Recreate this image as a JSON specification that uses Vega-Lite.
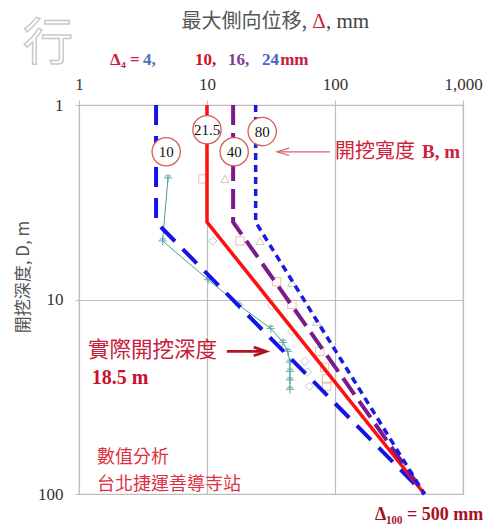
{
  "$schema": "https://vega.github.io/schema/vega-lite/v6.json",
  "width": 384,
  "height": 389,
  "autosize": "none",
  "padding": {"left": 79, "top": 105, "right": 28, "bottom": 35},
  "background": "white",
  "config": {"view": {"stroke": "#c4c4c4", "strokeWidth": 1.2}},
  "datasets": {
    "curves": [
      {"b": "10", "x": 4, "d": 1, "o": 1}, {"b": "10", "x": 4, "d": 4, "o": 2}, {"b": "10", "x": 500, "d": 100, "o": 3},
      {"b": "21.5", "x": 10, "d": 1, "o": 1}, {"b": "21.5", "x": 10, "d": 4, "o": 2}, {"b": "21.5", "x": 500, "d": 100, "o": 3},
      {"b": "40", "x": 16, "d": 1, "o": 1}, {"b": "40", "x": 16, "d": 4, "o": 2}, {"b": "40", "x": 500, "d": 100, "o": 3},
      {"b": "80", "x": 24, "d": 1, "o": 1}, {"b": "80", "x": 24, "d": 4, "o": 2}, {"b": "80", "x": 500, "d": 100, "o": 3}
    ],
    "measured": [
      {"kind": "cross", "x": 4.96, "d": 2.37}, {"kind": "cross", "x": 4.5, "d": 5.0}, {"kind": "cross", "x": 10.2, "d": 7.9},
      {"kind": "cross", "x": 17.8, "d": 10.7}, {"kind": "cross", "x": 31.5, "d": 14.1}, {"kind": "cross", "x": 39.2, "d": 16.6},
      {"kind": "cross", "x": 42.8, "d": 18.5}, {"kind": "cross", "x": 44.5, "d": 21.0}, {"kind": "cross", "x": 44.5, "d": 23.4},
      {"kind": "cross", "x": 44.5, "d": 25.9}, {"kind": "cross", "x": 44.5, "d": 29.0},
      {"kind": "diamond", "x": 11.1, "d": 5.0}, {"kind": "diamond", "x": 32, "d": 10.8}, {"kind": "diamond", "x": 46, "d": 14.6},
      {"kind": "diamond", "x": 58, "d": 20.8}, {"kind": "diamond", "x": 61, "d": 23.6}, {"kind": "diamond", "x": 63, "d": 28},
      {"kind": "square", "x": 9.3, "d": 2.4}, {"kind": "square", "x": 18.1, "d": 5.0}, {"kind": "square", "x": 35, "d": 8.1},
      {"kind": "square", "x": 46, "d": 10.6}, {"kind": "square", "x": 76, "d": 18.5}, {"kind": "square", "x": 83, "d": 22.3},
      {"kind": "square", "x": 86, "d": 25.6}, {"kind": "square", "x": 86, "d": 28},
      {"kind": "triangle", "x": 13.8, "d": 2.4}, {"kind": "triangle", "x": 25.9, "d": 5.0}, {"kind": "triangle", "x": 46, "d": 8.2},
      {"kind": "triangle", "x": 72, "d": 13}
    ],
    "widths": [
      {"b": "10", "x": 4.8, "d": 1.74},
      {"b": "21.5", "x": 10, "d": 1.34},
      {"b": "40", "x": 16.3, "d": 1.74},
      {"b": "80", "x": 27, "d": 1.37}
    ],
    "one": [{"k": 1}]
  },
  "layer": [
    {"data": {"name": "measured"}, "transform": [{"filter": "datum.kind == 'cross'"}], "mark": {"type": "line", "color": "#4d9c9c", "strokeWidth": 1},
     "encoding": {
      "x": {"field": "x", "type": "quantitative", "scale": {"type": "log", "domain": [1, 1000]},
        "axis": {"orient": "top", "values": [1, 10, 100, 1000], "format": ",", "title": null, "grid": true, "gridColor": "#bdbdbd", "gridWidth": 1.2, "domain": false, "ticks": true, "tickColor": "#bdbdbd", "tickSize": 5, "labelFont": "Liberation Serif", "labelFontSize": 17, "labelColor": "#333", "labelPadding": 7, "labelFlush": false}},
      "y": {"field": "d", "type": "quantitative", "scale": {"type": "log", "domain": [1, 100], "reverse": true},
        "axis": {"values": [1, 10, 100], "title": null, "grid": true, "gridColor": "#bdbdbd", "gridWidth": 1.2, "domain": false, "ticks": true, "tickColor": "#bdbdbd", "tickSize": 4, "labelFont": "Liberation Serif", "labelFontSize": 17, "labelColor": "#333", "labelPadding": 12, "labelFlush": false}},
      "order": {"field": "d", "type": "quantitative"}}},
    {"data": {"name": "measured"}, "transform": [{"filter": "datum.kind == 'cross'"}], "mark": {"type": "point", "shape": "M-1,0L1,0M0,-1L0,1M-0.7,-0.5L0.7,-0.5", "filled": false, "stroke": "#3f9a9a", "strokeWidth": 1.2, "size": 70},
     "encoding": {"x": {"field": "x", "type": "quantitative"}, "y": {"field": "d", "type": "quantitative"}}},
    {"data": {"name": "measured"}, "transform": [{"filter": "datum.kind == 'diamond'"}], "mark": {"type": "point", "shape": "diamond", "filled": false, "stroke": "#9fb4d2", "strokeWidth": 1, "size": 70},
     "encoding": {"x": {"field": "x", "type": "quantitative"}, "y": {"field": "d", "type": "quantitative"}}},
    {"data": {"name": "measured"}, "transform": [{"filter": "datum.kind == 'square'"}], "mark": {"type": "point", "shape": "square", "filled": false, "stroke": "#e0a878", "strokeWidth": 1, "size": 70},
     "encoding": {"x": {"field": "x", "type": "quantitative"}, "y": {"field": "d", "type": "quantitative"}}},
    {"data": {"name": "measured"}, "transform": [{"filter": "datum.kind == 'triangle'"}], "mark": {"type": "point", "shape": "triangle-up", "filled": false, "stroke": "#c0a8a8", "strokeWidth": 1, "size": 70},
     "encoding": {"x": {"field": "x", "type": "quantitative"}, "y": {"field": "d", "type": "quantitative"}}},
    {"data": {"name": "curves"}, "transform": [{"filter": "datum.b == '10'"}], "mark": {"type": "line", "color": "#1414e6", "strokeWidth": 4, "strokeDash": [20, 11]},
     "encoding": {"x": {"field": "x", "type": "quantitative"}, "y": {"field": "d", "type": "quantitative"}, "order": {"field": "o", "type": "quantitative"}}},
    {"data": {"name": "curves"}, "transform": [{"filter": "datum.b == '21.5'"}], "mark": {"type": "line", "color": "#ff0f0f", "strokeWidth": 3.5},
     "encoding": {"x": {"field": "x", "type": "quantitative"}, "y": {"field": "d", "type": "quantitative"}, "order": {"field": "o", "type": "quantitative"}}},
    {"data": {"name": "curves"}, "transform": [{"filter": "datum.b == '40'"}], "mark": {"type": "line", "color": "#7a1a8c", "strokeWidth": 4, "strokeDash": [20, 8]},
     "encoding": {"x": {"field": "x", "type": "quantitative"}, "y": {"field": "d", "type": "quantitative"}, "order": {"field": "o", "type": "quantitative"}}},
    {"data": {"name": "curves"}, "transform": [{"filter": "datum.b == '80'"}], "mark": {"type": "line", "color": "#1a1ae6", "strokeWidth": 3.5, "strokeDash": [7, 5]},
     "encoding": {"x": {"field": "x", "type": "quantitative"}, "y": {"field": "d", "type": "quantitative"}, "order": {"field": "o", "type": "quantitative"}}},
    {"data": {"name": "widths"}, "mark": {"type": "point", "shape": "circle", "filled": true, "fill": "white", "stroke": "#d85a5a", "strokeWidth": 1.3, "size": 800, "opacity": 1},
     "encoding": {"x": {"field": "x", "type": "quantitative"}, "y": {"field": "d", "type": "quantitative"}}},
    {"data": {"name": "widths"}, "mark": {"type": "text", "font": "Liberation Serif", "fontSize": 15, "color": "#111", "align": "center", "baseline": "middle"},
     "encoding": {"x": {"field": "x", "type": "quantitative"}, "y": {"field": "d", "type": "quantitative"}, "text": {"field": "b"}}},
    {"data": {"name": "one"}, "mark": {"type": "text", "text": "行", "font": "Noto Sans CJK TC", "fontSize": 50, "fill": "white", "stroke": "#c8c8c8", "strokeWidth": 1.5, "align": "center", "baseline": "middle"}, "encoding": {"x": {"datum": 0.573}, "y": {"datum": 0.491}}},
    {"data": {"name": "one"}, "mark": {"type": "rule", "color": "#d86070", "strokeWidth": 1.2}, "encoding": {"x": {"datum": 35.2}, "x2": {"datum": 91.3}, "y": {"datum": 1.74}}},
    {"data": {"name": "one"}, "mark": {"type": "point", "shape": "M1,-0.6L-1,0L1,0.6", "filled": false, "stroke": "#d86070", "strokeWidth": 1.2, "size": 150, "opacity": 1}, "encoding": {"x": {"datum": 39.3}, "y": {"datum": 1.74}}},
    {"data": {"name": "one"}, "mark": {"type": "text", "text": "開挖寬度", "font": "Noto Sans CJK TC", "fontSize": 20, "color": "#d0203c", "align": "left", "baseline": "middle"}, "encoding": {"x": {"datum": 100}, "y": {"datum": 1.74}}},
    {"data": {"name": "one"}, "mark": {"type": "text", "text": "B, m", "font": "Liberation Serif", "fontWeight": "bold", "fontSize": 19, "color": "#d0203c", "align": "left", "baseline": "middle"}, "encoding": {"x": {"datum": 479}, "y": {"datum": 1.74}}},
    {"data": {"name": "one"}, "mark": {"type": "text", "text": "實際開挖深度", "font": "Noto Sans CJK TC", "fontSize": 21.5, "color": "#c8203a", "align": "left", "baseline": "middle"}, "encoding": {"x": {"datum": 1.176}, "y": {"datum": 18.5}}},
    {"data": {"name": "one"}, "mark": {"type": "rule", "color": "#b01525", "strokeWidth": 2.8}, "encoding": {"x": {"datum": 14.3}, "x2": {"datum": 28.2}, "y": {"datum": 18.5}}},
    {"data": {"name": "one"}, "mark": {"type": "point", "shape": "M-1,-0.7L1,0L-1,0.7", "filled": false, "stroke": "#b01525", "strokeWidth": 2.8, "size": 150, "opacity": 1}, "encoding": {"x": {"datum": 25.9}, "y": {"datum": 18.5}}},
    {"data": {"name": "one"}, "mark": {"type": "text", "text": "18.5 m", "font": "Liberation Serif", "fontWeight": "bold", "fontSize": 20, "color": "#c8102e", "align": "left", "baseline": "middle"}, "encoding": {"x": {"datum": 1.26}, "y": {"datum": 25.3}}},
    {"data": {"name": "one"}, "mark": {"type": "text", "text": "數值分析", "font": "Noto Sans CJK TC", "fontSize": 18, "color": "#e0303f", "align": "left", "baseline": "middle"}, "encoding": {"x": {"datum": 1.38}, "y": {"datum": 65.5}}},
    {"data": {"name": "one"}, "mark": {"type": "text", "text": "台北捷運善導寺站", "font": "Noto Sans CJK TC", "fontSize": 18, "color": "#e0303f", "align": "left", "baseline": "middle"}, "encoding": {"x": {"datum": 1.38}, "y": {"datum": 90}}},
    {"data": {"name": "one"}, "mark": {"type": "text", "text": "Δ₁₀₀ =  500 mm", "font": "Liberation Serif", "fontWeight": "bold", "fontSize": 18, "color": "#a8101e", "align": "left", "baseline": "middle"}, "encoding": {"x": {"datum": 205}, "y": {"datum": 128}}},
    {"data": {"name": "one"}, "mark": {"type": "text", "text": "開挖深度, D, m", "font": "Noto Sans CJK TC", "fontSize": 17, "color": "#555", "align": "center", "baseline": "middle", "angle": 270}, "encoding": {"x": {"datum": 0.37}, "y": {"datum": 7.66}}},
    {"data": {"name": "one"}, "mark": {"type": "text", "text": "最大側向位移,", "font": "Noto Sans CJK TC", "fontSize": 20, "color": "#555", "align": "right", "baseline": "middle", "dx": -12}, "encoding": {"x": {"datum": 75}, "y": {"datum": 0.374}}},
    {"data": {"name": "one"}, "mark": {"type": "text", "text": "Δ", "font": "Liberation Serif", "fontSize": 21, "color": "#d0203c", "align": "center", "baseline": "middle"}, "encoding": {"x": {"datum": 75}, "y": {"datum": 0.374}}},
    {"data": {"name": "one"}, "mark": {"type": "text", "text": ", mm", "font": "Liberation Serif", "fontSize": 21, "color": "#444", "align": "left", "baseline": "middle", "dx": 7}, "encoding": {"x": {"datum": 75}, "y": {"datum": 0.374}}},
    {"data": {"name": "one"}, "mark": {"type": "text", "text": "Δ₄ =", "font": "Liberation Serif", "fontWeight": "bold", "fontSize": 17, "color": "#c8203c", "align": "left", "baseline": "middle"}, "encoding": {"x": {"datum": 1.75}, "y": {"datum": 0.587}}},
    {"data": {"name": "one"}, "mark": {"type": "text", "text": "4,", "font": "Liberation Serif", "fontWeight": "bold", "fontSize": 17, "color": "#4f72b8", "align": "left", "baseline": "middle"}, "encoding": {"x": {"datum": 3.16}, "y": {"datum": 0.587}}},
    {"data": {"name": "one"}, "mark": {"type": "text", "text": "10,", "font": "Liberation Serif", "fontWeight": "bold", "fontSize": 17, "color": "#d0101c", "align": "left", "baseline": "middle"}, "encoding": {"x": {"datum": 8.07}, "y": {"datum": 0.587}}},
    {"data": {"name": "one"}, "mark": {"type": "text", "text": "16,", "font": "Liberation Serif", "fontWeight": "bold", "fontSize": 17, "color": "#7a3e98", "align": "left", "baseline": "middle"}, "encoding": {"x": {"datum": 14.6}, "y": {"datum": 0.587}}},
    {"data": {"name": "one"}, "mark": {"type": "text", "text": "24", "font": "Liberation Serif", "fontWeight": "bold", "fontSize": 17, "color": "#3f66c0", "align": "left", "baseline": "middle"}, "encoding": {"x": {"datum": 26.9}, "y": {"datum": 0.587}}},
    {"data": {"name": "one"}, "mark": {"type": "text", "text": "mm", "font": "Liberation Serif", "fontWeight": "bold", "fontSize": 17, "color": "#c8203c", "align": "left", "baseline": "middle"}, "encoding": {"x": {"datum": 37.3}, "y": {"datum": 0.587}}}
  ]
}
